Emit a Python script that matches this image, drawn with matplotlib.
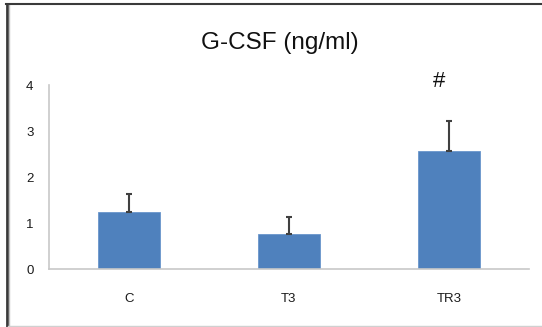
import matplotlib
matplotlib.use('Agg')
import matplotlib.pyplot as plt
from matplotlib.lines import Line2D

plt.rcParams['font.family'] = ['Liberation Sans', 'DejaVu Sans']

groups = ['C', 'T3', 'TR3']
means = [1.25, 0.76, 2.56]
errs = [0.39, 0.37, 0.65]
y_ticks = [0, 1, 2, 3, 4]

W, H = 542, 327
fig = plt.figure(figsize=(W / 100, H / 100), dpi=100)
ax = fig.add_axes([48.7 / W, 1 - 269.3 / H, (529 - 48.7) / W, (269.3 - 85) / H])

x = range(len(groups))
ax.bar(x, means, width=0.39, color='#4F81BD', edgecolor='#6A96CC', linewidth=0.6, zorder=2)
ax.errorbar(x, means, yerr=[[0] * len(errs), errs], fmt='none', ecolor='#404040',
            elinewidth=1.5, capsize=2.5, capthick=1.5, zorder=3)

ax.set_xlim(-0.5, 2.5)
ax.set_ylim(0, 4)
ax.set_yticks(y_ticks)
ax.set_xticks(list(x))
ax.set_xticklabels(groups)
ax.tick_params(axis='both', length=0, labelsize=9.5, colors='#1a1a1a')
ax.tick_params(axis='y', pad=11)
ax.tick_params(axis='x', pad=17)
for s in ['top', 'right']:
    ax.spines[s].set_visible(False)
for s in ['left', 'bottom']:
    ax.spines[s].set_color('#C8C8C8')
    ax.spines[s].set_linewidth(1.2)

ax.text(1.94, 4.08, '#', ha='center', va='center', fontsize=16, color='#111111')
fig.text(280 / W, 1 - 43 / H, 'G-CSF (ng/ml)', ha='center', va='center', fontsize=17.5, color='#111111')

# outer frame
fig.add_artist(Line2D([7 / W, 7 / W], [0, 1 - 4 / H], transform=fig.transFigure, color='#3A3A3A', lw=2))
fig.add_artist(Line2D([9 / W, 9 / W], [0, 1 - 5 / H], transform=fig.transFigure, color='#C0C0C0', lw=1))
fig.add_artist(Line2D([6 / W, 1], [1 - 4 / H, 1 - 4 / H], transform=fig.transFigure, color='#3A3A3A', lw=1.5))
fig.add_artist(Line2D([8 / W, 1], [1 - 325.5 / H, 1 - 325.5 / H], transform=fig.transFigure, color='#D0D0D0', lw=1))

fig.savefig('out.png', dpi=100)
